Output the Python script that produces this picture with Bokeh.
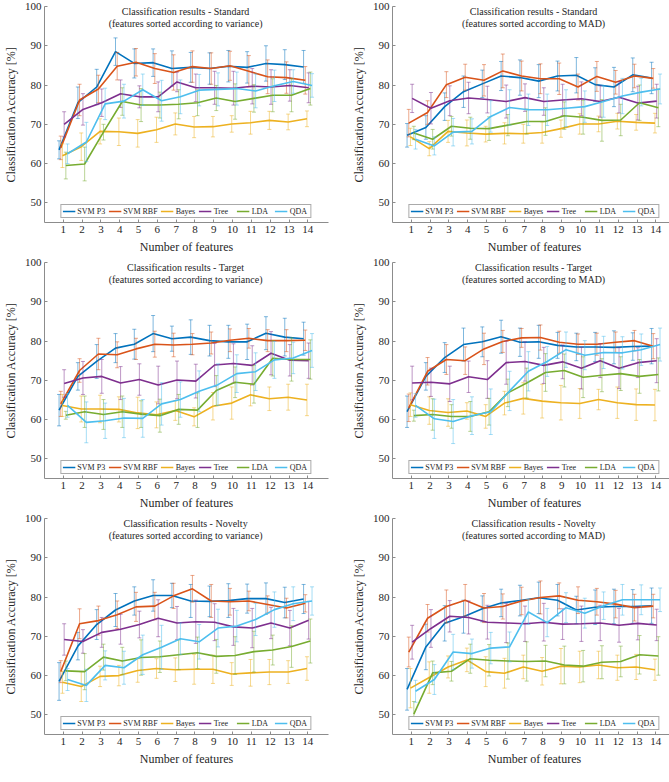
from bokeh.plotting import figure
from bokeh.layouts import gridplot
from bokeh.models import Legend, LegendItem, Label, ColumnDataSource, FixedTicker
from bokeh.embed import file_html
from bokeh.resources import INLINE

features = list(range(1, 15))
classifiers = ["SVM P3", "SVM RBF", "Bayes", "Tree", "LDA", "QDA"]
x_ticks = list(range(1, 15))
y_ticks = [50, 60, 70, 80, 90, 100]

title_main = ["Classification results - Standard", "Classification results - Standard",
              "Classification results - Target", "Classification results - Target",
              "Classification results - Novelty", "Classification results - Novelty"]
title_sub = ["(features sorted according to variance)", "(features sorted according to MAD)",
             "(features sorted according to variance)", "(features sorted according to MAD)",
             "(features sorted according to variance)", "(features sorted according to MAD)"]

# ---- Standard, variance ----
std_var_mean = {
    "SVM P3":  [63.5, 75.5, 79.5, 88.5, 85.5, 85.7, 84.2, 84.5, 84.2, 84.8, 84.5, 85.5, 85.2, 84.6],
    "SVM RBF": [64.0, 76.2, 79.0, 84.8, 85.8, 84.2, 83.2, 84.7, 84.2, 84.9, 83.5, 82.1, 81.9, 81.2],
    "Bayes":   [62.0, 64.3, 68.2, 68.1, 67.7, 68.6, 70.1, 69.3, 69.4, 70.1, 70.4, 71.0, 70.6, 71.4],
    "Tree":    [70.0, 73.8, 75.5, 77.8, 77.0, 77.0, 80.8, 79.3, 79.3, 79.2, 79.7, 79.5, 79.9, 79.3],
    "LDA":     [59.5, 59.9, 68.0, 75.8, 74.9, 74.9, 75.1, 75.5, 76.7, 75.8, 76.6, 77.4, 77.4, 79.1],
    "QDA":     [62.5, 65.5, 75.2, 75.9, 78.8, 76.0, 77.0, 78.7, 78.9, 79.1, 78.5, 79.8, 80.9, 79.9],
}
std_var_err = {
    "SVM P3":  [2.3, 4.0, 4.5, 3.5, 3.7, 3.5, 4.5, 3.8, 4.0, 4.0, 4.0, 4.5, 3.8, 4.2],
    "SVM RBF": [3.0, 4.0, 3.5, 3.5, 3.5, 3.8, 4.5, 4.0, 4.0, 3.7, 4.0, 4.3, 4.0, 3.5],
    "Bayes":   [3.0, 3.5, 3.2, 3.5, 3.5, 3.2, 2.8, 2.7, 2.6, 2.1, 2.9, 2.3, 2.0, 2.0],
    "Tree":    [3.2, 4.0, 3.5, 3.5, 2.8, 3.8, 2.5, 3.5, 4.2, 4.3, 4.5, 4.4, 4.0, 3.8],
    "LDA":     [3.4, 4.3, 2.0, 3.5, 4.2, 3.3, 3.7, 3.3, 3.2, 4.5, 3.5, 4.2, 4.2, 4.2],
    "QDA":     [2.5, 5.0, 4.0, 4.3, 4.0, 5.2, 4.3, 4.0, 4.2, 4.2, 4.3, 4.0, 3.0, 3.0],
}
# ---- Standard, MAD ----
std_mad_mean = {
    "SVM P3":  [67.2, 69.2, 74.5, 78.3, 80.3, 82.3, 81.9, 81.0, 82.3, 82.5, 80.1, 79.5, 82.6, 81.8],
    "SVM RBF": [70.3, 73.0, 80.1, 82.0, 81.2, 83.6, 82.3, 81.6, 81.6, 79.5, 82.2, 80.7, 82.3, 81.7],
    "Bayes":   [66.8, 63.8, 68.2, 67.8, 67.5, 67.7, 67.6, 67.9, 68.9, 70.1, 70.1, 70.8, 70.5, 70.3],
    "Tree":    [76.6, 74.1, 76.0, 76.7, 76.3, 75.8, 76.8, 75.8, 76.2, 76.5, 75.8, 76.9, 75.4, 75.9],
    "LDA":     [67.8, 66.2, 69.5, 69.0, 68.9, 69.8, 70.7, 70.7, 72.2, 71.8, 71.0, 71.1, 75.5, 74.2],
    "QDA":     [66.2, 64.5, 68.0, 68.2, 72.0, 74.3, 73.7, 73.7, 74.1, 74.5, 75.8, 77.2, 78.2, 79.0],
}
std_mad_err = {
    "SVM P3":  [3.0, 3.0, 3.5, 4.0, 3.5, 3.7, 4.5, 4.2, 3.8, 4.5, 4.3, 5.0, 4.3, 4.0],
    "SVM RBF": [3.5, 3.0, 3.3, 3.3, 4.0, 4.3, 3.8, 3.8, 4.0, 3.3, 3.8, 3.0, 3.0, 2.5],
    "Bayes":   [2.2, 1.8, 2.8, 3.3, 2.0, 2.7, 2.4, 2.7, 2.2, 2.6, 2.0, 2.0, 2.0, 2.5],
    "Tree":    [3.6, 4.0, 3.8, 4.0, 3.4, 4.2, 3.5, 3.5, 4.0, 4.3, 4.0, 4.0, 4.3, 4.3],
    "LDA":     [1.7, 2.5, 2.5, 2.8, 3.0, 2.7, 3.2, 3.5, 3.5, 4.3, 5.3, 4.0, 4.5, 4.8],
    "QDA":     [2.5, 2.3, 3.5, 3.2, 4.0, 4.5, 4.0, 4.0, 4.7, 4.0, 4.0, 4.5, 3.5, 3.8],
}
# ---- Target, variance ----
tgt_var_mean = {
    "SVM P3":  [62.4, 71.0, 74.8, 78.2, 79.2, 81.9, 80.6, 81.0, 80.1, 79.8, 79.8, 82.0, 81.0, 80.6],
    "SVM RBF": [64.0, 72.5, 76.7, 76.5, 78.0, 79.2, 79.0, 79.2, 79.5, 80.2, 80.7, 80.1, 80.1, 80.2],
    "Bayes":   [63.6, 62.7, 62.7, 62.6, 61.7, 61.2, 62.3, 60.7, 63.4, 64.2, 66.3, 65.3, 65.7, 65.0],
    "Tree":    [69.2, 70.6, 71.0, 69.3, 70.2, 68.8, 70.1, 69.8, 73.9, 74.3, 73.8, 76.9, 75.1, 75.0],
    "LDA":     [61.1, 62.0, 61.3, 62.0, 61.4, 61.0, 62.6, 62.4, 67.4, 69.5, 69.0, 75.6, 75.3, 75.3],
    "QDA":     [63.6, 59.3, 59.7, 60.4, 60.3, 64.0, 65.1, 67.2, 68.9, 71.7, 72.2, 75.2, 75.7, 77.6],
}
tgt_var_err = {
    "SVM P3":  [4.0, 3.5, 4.3, 3.7, 3.8, 4.6, 3.2, 4.4, 3.9, 4.2, 4.5, 4.2, 4.8, 4.2],
    "SVM RBF": [3.2, 3.0, 4.0, 3.3, 2.7, 3.3, 3.0, 2.7, 2.8, 2.9, 2.5, 2.8, 2.8, 2.6],
    "Bayes":   [2.8, 3.3, 3.5, 3.2, 4.0, 3.3, 2.5, 2.3, 3.5, 4.1, 2.8, 3.0, 3.3, 4.0],
    "Tree":    [3.5, 4.2, 4.3, 4.2, 4.0, 4.8, 4.8, 4.3, 5.5, 5.0, 5.0, 5.5, 4.0, 4.5],
    "LDA":     [1.0, 4.0, 3.8, 4.0, 3.4, 4.2, 3.8, 4.4, 3.8, 3.9, 4.8, 4.5, 5.5, 5.0],
    "QDA":     [3.0, 5.2, 4.5, 5.0, 4.8, 5.4, 4.5, 5.2, 5.3, 4.8, 4.8, 4.7, 4.0, 4.3],
}
# ---- Target, MAD ----
tgt_mad_mean = {
    "SVM P3":  [62.0, 71.0, 75.8, 79.1, 79.8, 81.1, 79.7, 79.8, 78.9, 78.5, 78.5, 78.4, 78.6, 78.7],
    "SVM RBF": [63.0, 72.3, 75.3, 75.0, 78.0, 79.9, 80.8, 80.9, 79.7, 79.2, 79.2, 79.7, 80.1, 78.7],
    "Bayes":   [63.8, 62.3, 61.8, 62.2, 60.8, 64.2, 65.4, 64.7, 64.3, 64.1, 65.1, 64.3, 63.8, 63.7],
    "Tree":    [69.3, 69.5, 69.1, 70.9, 70.2, 74.5, 74.8, 73.8, 74.7, 73.1, 75.0, 73.1, 74.5, 75.0],
    "LDA":     [61.0, 61.3, 60.8, 60.8, 62.0, 66.8, 69.3, 72.0, 72.5, 70.8, 71.3, 71.7, 71.0, 71.5],
    "QDA":     [63.6, 60.2, 59.5, 61.0, 62.0, 67.3, 72.3, 74.8, 77.8, 76.4, 77.1, 77.0, 77.8, 79.1],
}
tgt_mad_err = {
    "SVM P3":  [4.0, 3.5, 3.8, 4.2, 3.8, 4.2, 3.6, 4.2, 3.3, 3.5, 3.7, 4.2, 3.5, 4.5],
    "SVM RBF": [3.5, 3.5, 3.8, 3.5, 4.0, 2.8, 2.4, 3.2, 2.8, 2.6, 2.8, 2.6, 2.6, 3.2],
    "Bayes":   [3.0, 3.5, 3.5, 2.1, 3.0, 3.0, 4.0, 4.3, 4.4, 3.8, 2.6, 4.0, 4.0, 4.0],
    "Tree":    [4.3, 3.6, 4.5, 4.0, 4.8, 5.5, 5.0, 4.6, 4.3, 5.3, 4.3, 5.2, 3.8, 5.6],
    "LDA":     [1.4, 4.0, 3.0, 3.8, 3.4, 3.5, 3.8, 4.8, 4.2, 5.2, 4.2, 4.3, 4.3, 4.2],
    "QDA":     [3.0, 5.0, 5.6, 4.8, 5.8, 5.0, 5.0, 3.8, 4.5, 3.7, 4.1, 4.1, 4.0, 4.2],
}
# ---- Novelty, variance ----
nov_var_mean = {
    "SVM P3":  [58.5, 67.5, 73.0, 76.7, 79.0, 80.4, 80.4, 79.0, 78.9, 79.1, 79.6, 79.6, 78.6, 79.5],
    "SVM RBF": [61.0, 73.2, 74.0, 75.5, 77.5, 77.7, 80.3, 82.1, 79.0, 78.8, 79.0, 78.1, 77.2, 78.4],
    "Bayes":   [58.3, 57.2, 59.8, 60.0, 61.3, 61.8, 61.5, 61.6, 61.6, 60.4, 60.7, 60.9, 60.9, 61.8],
    "Tree":    [69.2, 68.7, 71.0, 71.8, 73.0, 74.6, 73.4, 73.7, 73.6, 72.4, 72.1, 73.4, 72.1, 74.1],
    "LDA":     [61.2, 61.0, 64.7, 63.7, 64.6, 64.8, 65.3, 65.8, 64.9, 65.1, 66.1, 66.5, 67.4, 68.8],
    "QDA":     [59.0, 57.5, 62.6, 62.0, 65.3, 67.2, 69.4, 68.6, 72.1, 72.6, 74.3, 76.8, 78.3, 79.0],
}
nov_var_err = {
    "SVM P3":  [4.8, 3.5, 3.8, 4.2, 3.6, 4.0, 3.1, 4.2, 3.9, 4.3, 3.7, 4.0, 3.9, 3.7],
    "SVM RBF": [2.8, 3.8, 3.7, 3.5, 3.7, 3.5, 3.2, 3.4, 4.2, 3.4, 2.5, 2.2, 2.5, 2.2],
    "Bayes":   [2.8, 3.8, 2.6, 2.6, 3.0, 2.5, 3.0, 3.8, 3.6, 2.9, 3.4, 3.2, 2.9, 3.0],
    "Tree":    [4.0, 3.0, 3.8, 3.8, 3.4, 4.7, 4.2, 5.5, 4.7, 4.7, 5.0, 4.0, 4.5, 4.8],
    "LDA":     [2.5, 4.6, 3.3, 3.5, 4.5, 4.0, 3.8, 4.0, 4.3, 4.8, 5.2, 3.8, 5.3, 5.6],
    "QDA":     [2.8, 4.1, 3.7, 4.2, 5.0, 5.6, 4.0, 4.4, 4.8, 4.0, 4.1, 4.5, 4.3, 3.6],
}
# ---- Novelty, MAD ----
nov_mad_mean = {
    "SVM P3":  [56.5, 67.3, 73.3, 75.0, 77.0, 78.5, 79.1, 79.8, 79.2, 76.7, 77.4, 77.6, 77.6, 77.8],
    "SVM RBF": [66.0, 74.6, 77.6, 79.2, 77.2, 77.6, 79.0, 79.9, 80.3, 79.2, 78.8, 78.2, 77.3, 77.7],
    "Bayes":   [56.8, 59.5, 62.2, 64.0, 61.0, 60.6, 62.2, 61.1, 62.4, 62.2, 62.7, 62.0, 62.2, 61.5],
    "Tree":    [68.5, 72.0, 75.1, 74.8, 73.6, 73.4, 73.2, 73.6, 73.1, 73.2, 73.4, 72.8, 73.3, 72.9],
    "LDA":     [50.2, 60.7, 61.1, 64.3, 63.9, 63.7, 63.6, 63.7, 62.7, 62.4, 63.4, 63.6, 65.3, 65.0],
    "QDA":     [56.0, 59.0, 66.0, 65.6, 67.0, 67.3, 76.2, 73.5, 77.3, 75.9, 77.8, 79.3, 79.3, 79.3],
}
nov_mad_err = {
    "SVM P3":  [5.3, 5.8, 4.5, 4.2, 3.3, 3.5, 3.9, 4.0, 4.0, 3.5, 4.4, 4.4, 4.3, 4.5],
    "SVM RBF": [3.8, 3.5, 4.2, 4.0, 3.7, 3.2, 3.5, 4.2, 3.3, 3.4, 3.4, 3.5, 3.4, 3.0],
    "Bayes":   [5.0, 4.0, 2.8, 3.0, 3.8, 3.8, 3.0, 3.5, 4.5, 4.0, 3.5, 3.2, 3.2, 2.7],
    "Tree":    [4.3, 4.8, 4.0, 4.2, 4.3, 5.0, 4.5, 4.8, 3.9, 4.5, 4.5, 4.3, 4.2, 4.0],
    "LDA":     [3.2, 3.0, 2.5, 3.7, 4.0, 4.6, 5.0, 4.0, 4.8, 4.0, 4.2, 3.9, 4.9, 4.9],
    "QDA":     [2.8, 3.8, 4.5, 3.7, 4.0, 3.8, 3.2, 3.6, 3.8, 3.8, 3.5, 3.9, 3.8, 3.0],
}

panels = [(std_var_mean, std_var_err), (std_mad_mean, std_mad_err),
          (tgt_var_mean, tgt_var_err), (tgt_mad_mean, tgt_mad_err),
          (nov_var_mean, nov_var_err), (nov_mad_mean, nov_mad_err)]

# ---- styles ----
COLORS = ["#0072BD", "#D95319", "#EDB120", "#7E2F8E", "#77AC30", "#4DBEEE"]
OFFSETS = [-0.225, -0.135, -0.045, 0.045, 0.135, 0.225]
FONT = "'Liberation Serif', serif"
TEXT_COLOR = "#262626"
AXIS_COLOR = "#8c8c8c"
FW, FH = 284, 216


def make_panel(i):
    means, errs = panels[i]
    left_col = (i % 2 == 0)
    p = figure(frame_width=FW, frame_height=FH,
               x_range=(0, 15.1), y_range=(45, 100),
               output_backend="svg", toolbar_location=None,
               min_border_left=34, min_border_right=20 if left_col else 4,
               min_border_top=6, min_border_bottom=33)
    p.outline_line_color = None
    p.grid.visible = False
    p.background_fill_color = "white"
    p.border_fill_color = "white"

    for ax in (p.xaxis[0], p.yaxis[0]):
        ax.axis_line_color = AXIS_COLOR
        ax.axis_line_width = 1
        ax.major_tick_line_color = AXIS_COLOR
        ax.major_tick_in = 3
        ax.major_tick_out = 0
        ax.minor_tick_line_color = None
        ax.major_label_text_font = FONT
        ax.major_label_text_font_size = "11px"
        ax.major_label_text_font_style = "normal"
        ax.major_label_text_color = TEXT_COLOR
        ax.major_label_standoff = 3
        ax.axis_label_text_font = FONT
        ax.axis_label_text_font_size = "12px"
        ax.axis_label_text_font_style = "normal"
        ax.axis_label_text_color = TEXT_COLOR
        ax.axis_label_standoff = 4
    p.xaxis.ticker = FixedTicker(ticks=x_ticks)
    p.yaxis.ticker = FixedTicker(ticks=y_ticks)
    p.xaxis.axis_label = "Number of features"
    p.yaxis.axis_label = "Classification Accuracy [%]"

    items = []
    for k, name in enumerate(classifiers):
        col = COLORS[k]
        xs = [f + OFFSETS[k] for f in features]
        ys = means[name]
        es = errs[name]
        src = ColumnDataSource(dict(x=xs, y=ys,
                                    lo=[a - b for a, b in zip(ys, es)],
                                    hi=[a + b for a, b in zip(ys, es)]))
        p.segment(x0="x", y0="lo", x1="x", y1="hi", source=src,
                  line_color=col, line_alpha=0.5, line_width=1)
        p.scatter(x="x", y="lo", source=src, marker="dash", size=4,
                  line_color=col, line_alpha=0.5, line_width=1)
        p.scatter(x="x", y="hi", source=src, marker="dash", size=4,
                  line_color=col, line_alpha=0.5, line_width=1)
        lr = p.line(x="x", y="y", source=src, line_color=col, line_width=1.6)
        dummy = p.scatter(x=[], y=[], marker="cross", size=8,
                          line_color=col, line_width=1.2)
        items.append(LegendItem(label=name, renderers=[lr, dummy]))

    legend = Legend(items=items, orientation="horizontal", location="bottom_center",
                    label_text_font=FONT, label_text_font_size="8px",
                    label_text_font_style="normal",
                    label_text_color=TEXT_COLOR, label_height=9, label_standoff=2,
                    glyph_height=10, glyph_width=13, spacing=3, padding=1, margin=4,
                    border_line_color="#555555", border_line_width=1,
                    background_fill_color="white", background_fill_alpha=1)
    p.add_layout(legend)

    p.add_layout(Label(x=7.5, y=98.7, text=title_main[i], text_align="center",
                       text_baseline="middle", text_font=FONT, text_font_size="10px",
                       text_color=TEXT_COLOR))
    p.add_layout(Label(x=7.5, y=95.6, text=title_sub[i], text_align="center",
                       text_baseline="middle", text_font=FONT, text_font_size="10px",
                       text_color=TEXT_COLOR))
    return p


figs = [make_panel(i) for i in range(6)]
grid = gridplot([[figs[0], figs[1]], [figs[2], figs[3]], [figs[4], figs[5]]],
                toolbar_location=None)

open("out.html", "w").write(file_html(grid, INLINE))
